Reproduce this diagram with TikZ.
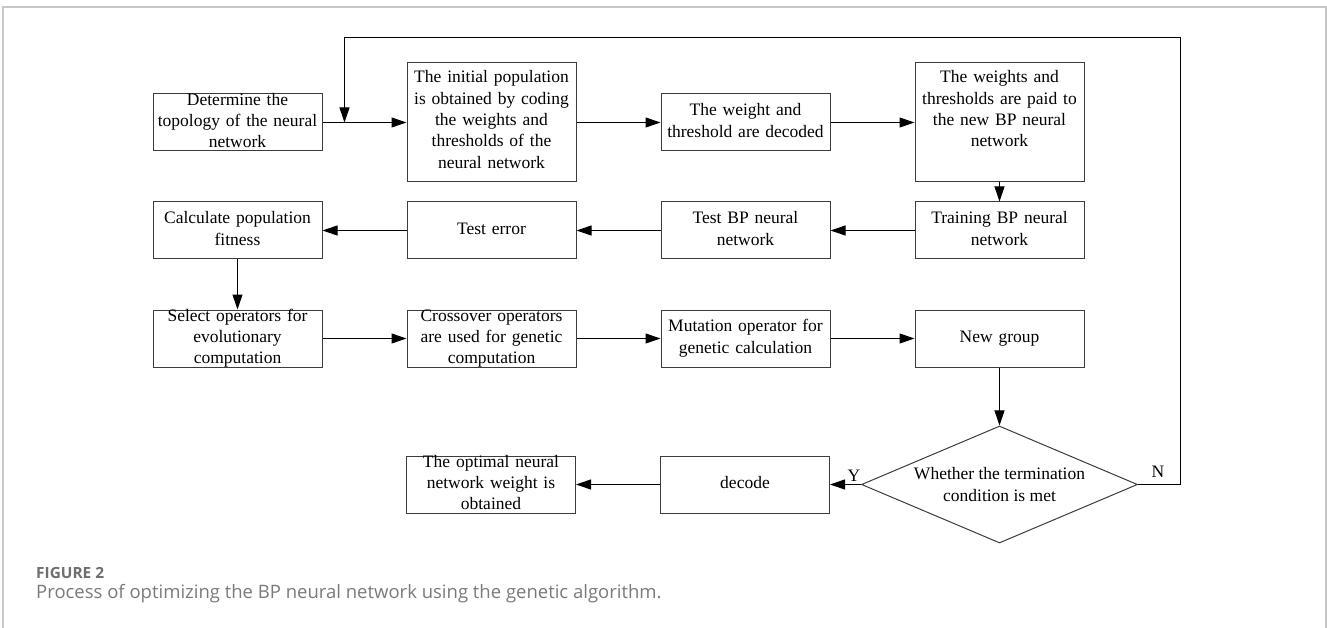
\documentclass[tikz,border=0pt]{standalone}
\usepackage{fontspec}
\setmainfont{Liberation Serif}
\newfontfamily\capfont{Open Sans}
\usepackage{tikz}
\usetikzlibrary{calc, positioning, arrows.meta, shapes.geometric}
\definecolor{frameGrey}{HTML}{C8C8C8}
\definecolor{capGrey}{HTML}{7A7A7A}
\definecolor{figGrey}{HTML}{6E6E6E}
\definecolor{boxInk}{HTML}{3C3C3C}
\tikzset{
  box/.style       = {draw=boxInk, line width=1pt, fill=white, align=center,
                      font=\fontsize{17.5}{21.3}\selectfont, inner sep=0pt,
                      text width=165pt, minimum width=169pt, minimum height=57pt},
  oneline/.style   = {text height=32.4pt, text depth=24.6pt},
  twoline/.style   = {text height=21.8pt, text depth=35.2pt},
  threeline/.style = {text height=11.2pt, text depth=45.8pt},
  tall/.style      = {minimum height=119pt, text height=20pt, text depth=99pt},
  decide/.style    = {draw=boxInk, line width=1pt, diamond, aspect=2.36, fill=white, align=center,
                      font=\fontsize{17.5}{21.3}\selectfont, inner sep=0pt,
                      minimum width=276pt, minimum height=117pt},
  fl/.style        = {-{Triangle[length=15pt, width=10pt]}, draw=black, line width=1pt},
  lbl/.style       = {font=\fontsize{17.5}{20}\selectfont, inner sep=0pt},
  captext/.style   = {anchor=base west, inner sep=0pt}
}
\begin{document}
\begin{tikzpicture}[x=1pt, y=1pt]
  \useasboundingbox (0,0) rectangle (1327,-628);
  \draw[frameGrey, line width=1.3pt] (3,-628) -- (3,-7) -- (1326,-7) -- (1326,-628);

  % first row
  \node[box, threeline] (topo) at (237.5,-122.5) {Determine the\\topology of the neural\\network};
  \node[box, tall, right=84pt of topo] (init) {The initial population\\is obtained by coding\\the weights and\\thresholds of the\\neural network};
  \node[box, twoline, right=84pt of init] (dec) {The weight and\\threshold are decoded};
  \node[box, tall, right=84pt of dec] (paid) {The weights and\\thresholds are paid to\\the new BP neural\\network};

  % second row
  \node[box, twoline, below=50pt of topo] (fit) {Calculate population\\fitness};
  \node[box, oneline, right=84pt of fit] (err) {Test error};
  \node[box, twoline, right=84pt of err] (tbp) {Test BP neural\\network};
  \node[box, twoline, right=84pt of tbp] (train) {Training BP neural\\network};

  % third row
  \node[box, threeline, below=50pt of fit] (sel) {Select operators for\\evolutionary\\computation};
  \node[box, threeline, right=84pt of sel] (cross) {Crossover operators\\are used for genetic\\computation};
  \node[box, twoline, right=84pt of cross] (mut) {Mutation operator for\\genetic calculation};
  \node[box, oneline, right=84pt of mut] (newg) {New group};

  % decision and end
  \node[decide, below=58pt of newg] (term) {Whether the termination\\condition is met};
  \node[box, oneline, left=31pt of term] (decode) {decode};
  \node[box, threeline, left=84pt of decode] (opt) {The optimal neural\\network weight is\\obtained};

  \foreach \a/\b in {topo/init, init/dec, dec/paid, paid/train, train/tbp, tbp/err,
                     err/fit, fit/sel, sel/cross, cross/mut, mut/newg, newg/term,
                     term/decode, decode/opt}
    \draw[fl] (\a) -- (\b);

  % loop back when not met
  \coordinate (j) at ($(topo.east)+(22,0)$);
  \coordinate (back) at ($(j)+(0,84.5)$);
  \draw[fl] (term.east) -- ++(42,0) |- (back) -- (j);

  \node[lbl] (yes) at ($(term.west)+(-7,9)$) {Y};
  \node[lbl] (no) at ($(term.east)+(20,13)$) {N};

  \node[captext, font=\capfont\bfseries\fontsize{15.4}{18}\selectfont, text=figGrey] (fig) at (36,-578) {FIGURE 2};
  \node[captext, font=\capfont\fontsize{18.5}{22}\selectfont, text=capGrey] (caption) at (36,-598) {Process of optimizing the BP neural network using the genetic algorithm.};
\end{tikzpicture}
\end{document}
